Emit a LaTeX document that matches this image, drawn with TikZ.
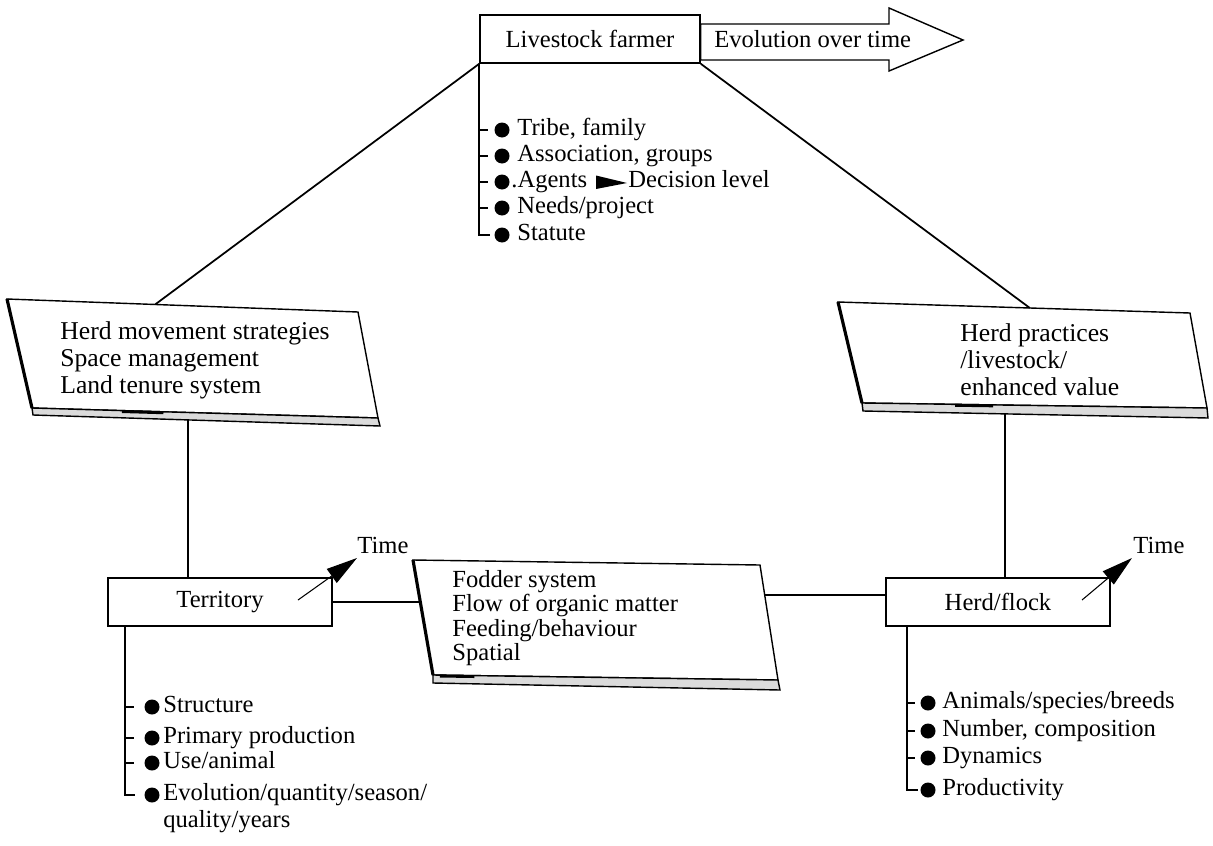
\documentclass[tikz,border=0pt]{standalone}
\usepackage{fontspec}
\setmainfont{Liberation Serif}
\usetikzlibrary{arrows.meta,calc}
\begin{document}
\begin{tikzpicture}[x=0.02cm,y=-0.02cm,
  txt/.style={font=\fontsize{14}{15}\selectfont},
  lbl/.style={txt, inner sep=0pt, anchor=base west},
  blk/.style={inner sep=0pt, anchor=west, align=left},
  rbox/.style={txt, draw, line width=0.9pt, minimum width=4.48cm, minimum height=0.96cm, inner sep=0pt},
  link/.style={line width=1pt},
  tick/.style={line width=0.8pt},
  card/.style={draw, line width=0.8pt, fill=white},
  shelf/.style={draw, line width=0.8pt, fill=black!14},
  cardedge/.style={line width=1.8pt},
  shelfmark/.style={line width=1.6pt},
  bullet/.style={fill=black},
  timearrow/.style={line width=0.6pt, -{Triangle[length=0.62cm,width=0.34cm]}},
  bigarrow/.style={draw, line width=0.8pt, fill=white}
]
\useasboundingbox (0,0) rectangle (1213,845);

% ---------- livestock farmer ----------
\node[rbox, minimum width=4.4cm] (farmer) at (590,39) {Livestock farmer\hspace{0.34cm}};
\draw[bigarrow] (farmer.east |- 0,24) -- (889,24) -- (889,8) -- (963,40)
  -- (889,71) -- (889,60) -- (farmer.east |- 0,60) -- cycle;
\node[lbl] (evo) at (714,47) {Evolution over time};

% farmer attributes
\coordinate (fend) at (490,235);
\draw[link] (farmer.south west) |- (fend);
\foreach \yy in {130,156,182,208} \draw[tick] (480,\yy) -- (488,\yy);
\foreach \yy in {130,156,182,208,235} \fill[bullet] (502,\yy) circle (7.5);
\node[lbl] (f1) at (517,135) {Tribe, family};
\node[lbl] (f2) at (517,161) {Association, groups};
\node[lbl] (f3) at (511,187) {.Agents};
\fill (596,175.5) -- (627,183) -- (596,189) -- cycle;
\node[lbl] (f3b) at (628,187) {Decision level};
\node[lbl] (f4) at (517,213) {Needs/project};
\node[lbl] (f5) at (517,240) {Statute};

% ---------- herd movement card ----------
\coordinate (hmA) at (7,299);   \coordinate (hmB) at (358,312);
\coordinate (hmC) at (378,418); \coordinate (hmD) at (32,408);
\coordinate (hmE) at (33,415);  \coordinate (hmF) at (380,426);
\filldraw[card] (hmA) -- (hmB) -- (hmC) -- (hmD) -- cycle;
\filldraw[shelf] (hmD) -- (hmC) -- (hmF) -- (hmE) -- cycle;
\draw[cardedge] (hmA) -- (hmD);
\draw[shelfmark] ($(hmD)!0.26!(hmC)+(0,1)$) -- ($(hmD)!0.38!(hmC)+(0,1)$);
\node[blk, font=\fontsize{14.6}{15.4}\selectfont] (hm) at (60,360)
  {Herd movement strategies\\Space management\\Land tenure system};

% ---------- herd practices card ----------
\coordinate (hpA) at (838,302);  \coordinate (hpB) at (1190,313);
\coordinate (hpC) at (1207,408); \coordinate (hpD) at (862,403);
\coordinate (hpE) at (863,411);  \coordinate (hpF) at (1208,418);
\filldraw[card] (hpA) -- (hpB) -- (hpC) -- (hpD) -- cycle;
\filldraw[shelf] (hpD) -- (hpC) -- (hpF) -- (hpE) -- cycle;
\draw[cardedge] (hpA) -- (hpD);
\draw[shelfmark] ($(hpD)!0.27!(hpC)+(0,1)$) -- ($(hpD)!0.38!(hpC)+(0,1)$);
\node[blk, font=\fontsize{14.6}{15.4}\selectfont] (hp) at (960,360)
  {Herd practices\\/livestock/\\enhanced value};

% ---------- fodder system card ----------
\coordinate (fsA) at (413,560); \coordinate (fsB) at (760,565);
\coordinate (fsC) at (778,680); \coordinate (fsD) at (433,675);
\coordinate (fsE) at (433,683); \coordinate (fsF) at (780,690);
\filldraw[card] (fsA) -- (fsB) -- (fsC) -- (fsD) -- cycle;
\filldraw[shelf] (fsD) -- (fsC) -- (fsF) -- (fsE) -- cycle;
\draw[cardedge] (fsA) -- (fsD);
\draw[shelfmark] ($(fsD)!0.02!(fsC)+(0,1)$) -- ($(fsD)!0.12!(fsC)+(0,1)$);
\node[blk, font=\fontsize{14}{13.8}\selectfont] (fs) at (452,618)
  {Fodder system\\Flow of organic matter\\Feeding/behaviour\\Spatial};

% ---------- territory and herd ----------
\node[rbox] (terr) at (220,602) {Territory\hspace{0.3cm}};
\node[rbox] (herd) at (998,602) {Herd/flock\hspace{0.22cm}};

% ---------- connectors ----------
\coordinate (hmtop) at ($(hmA)!0.422!(hmB)$);
\coordinate (hptop) at ($(hpA)!0.545!(hpB)$);
\coordinate (hmbot) at ($(hmE)!0.447!(hmF)$);
\coordinate (hpbot) at ($(hpE)!0.411!(hpF)$);
\coordinate (fsleft) at ($(fsA)!0.365!(fsD)$);
\coordinate (fsright) at ($(fsB)!0.26!(fsC)$);
\draw[link] (farmer.south west) -- (hmtop);
\draw[link] (farmer.south east) -- (hptop);
\draw[link] (hmbot) -- (hmbot |- terr.north);
\draw[link] (hpbot) -- (hpbot |- herd.north);
\draw[link] (terr.east) -- (fsleft);
\draw[link] (fsright) -- (herd.west |- fsright);

% ---------- time arrows ----------
\node[lbl] (time1) at (357,553) {Time};
\node[lbl] (time2) at (1133,553) {Time};
\coordinate (tt1) at (298,600);
\coordinate (tt2) at (1082,600);
\draw[timearrow] (tt1) -- ($(time1.base west)+(0,5)$);
\draw[timearrow] (tt2) -- ($(time2.base west)+(-1,5)$);

% ---------- territory attributes ----------
\coordinate (tend) at (135,795);
\draw[link] (terr.south -| 125,0) |- (tend);
\foreach \yy in {707,738,763} \draw[tick] (125,\yy) -- (134,\yy);
\foreach \yy in {707,738,763,795} \fill[bullet] (152,\yy) circle (7.5);
\node[lbl] (t1) at (163,712) {Structure};
\node[lbl] (t2) at (163,743) {Primary production};
\node[lbl] (t3) at (163,768) {Use/animal};
\node[lbl] (t4) at (163,800) {Evolution/quantity/season/};
\node[lbl] (t4b) at (163,827) {quality/years};

% ---------- herd attributes ----------
\coordinate (hend) at (918,790);
\draw[link] (herd.south -| 907,0) |- (hend);
\foreach \yy in {703,731,758} \draw[tick] (907,\yy) -- (915,\yy);
\foreach \yy in {703,731,758,790} \fill[bullet] (928,\yy) circle (7.5);
\node[lbl] (h1) at (942,708) {Animals/species/breeds};
\node[lbl] (h2) at (942,736) {Number, composition};
\node[lbl] (h3) at (942,763) {Dynamics};
\node[lbl] (h4) at (942,795) {Productivity};
\end{tikzpicture}
\end{document}
